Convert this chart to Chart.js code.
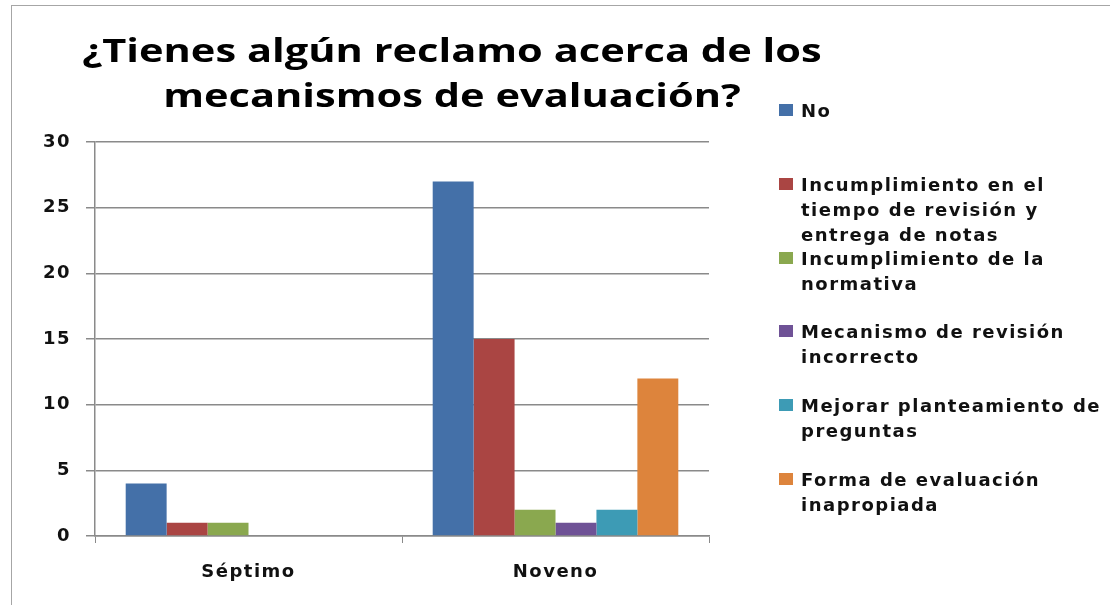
<!DOCTYPE html>
<html>
<head>
<meta charset="utf-8">
<script src="https://cdn.jsdelivr.net/npm/chart.js@4.4.0/dist/chart.umd.min.js"></script>
<style>
  html, body { margin: 0; padding: 0; background: #fff; }
  #wrap { position: relative; width: 1110px; height: 605px; overflow: hidden; }
  #frame { position: absolute; left: 11px; top: 5px; right: 0; bottom: 0;
           border-top: 1.5px solid #a6a6a6; border-left: 1.5px solid #a6a6a6; pointer-events: none; }
  #title { position: absolute; left: 0; top: 27px; width: 904px; text-align: center;
           font: bold 33px "Open Sans", sans-serif; line-height: 45px; color: #000;
           transform: scaleX(1.26); transform-origin: 452px 0; }
  .leg-item { position: absolute; left: 779px; }
  .leg-box { position: absolute; left: 0; top: 6px; width: 14px; height: 12px; }
  .leg-text { position: absolute; left: 22px; top: 0; white-space: nowrap;
              font: bold 18px "DejaVu Sans", sans-serif; line-height: 25px; letter-spacing: 1.5px; color: #111; }
</style>
</head>
<body>
<div id="wrap">
  <canvas id="chart" width="1110" height="605"></canvas>
  <div id="title">¿Tienes algún reclamo acerca de los<br>mecanismos de evaluación?</div>
  <div id="legend"></div>
  <div id="frame"></div>
</div>
<script>
// --- datos ---
const categorias = ['Séptimo', 'Noveno'];
const seriesNombres = [
  ['No'],
  ['Incumplimiento en el', 'tiempo de revisión y', 'entrega de notas'],
  ['Incumplimiento de la', 'normativa'],
  ['Mecanismo de revisión', 'incorrecto'],
  ['Mejorar planteamiento de', 'preguntas'],
  ['Forma de evaluación', 'inapropiada']
];
const valNo = [4, 27];
const valTiempo = [1, 15];
const valNormativa = [1, 2];
const valMecanismo = [0, 1];
const valPreguntas = [0, 2];
const valForma = [0, 12];
const colores = ['#4470a8', '#aa4543', '#8aa84f', '#6f5296', '#3d9bb5', '#dd843c'];

const valores = [valNo, valTiempo, valNormativa, valMecanismo, valPreguntas, valForma];
const gris = '#8a8a8a';

// espaciado de letras para imitar el texto ensanchado del original
const espaciado = {
  id: 'espaciado',
  beforeDraw(chart) { chart.ctx.letterSpacing = '1.5px'; },
  afterDraw(chart) { chart.ctx.letterSpacing = '0px'; }
};

const chart = new Chart(document.getElementById('chart'), {
  type: 'bar',
  data: {
    labels: categorias,
    datasets: valores.map((v, i) => ({
      label: seriesNombres[i].join(' '),
      data: v,
      backgroundColor: colores[i],
      borderWidth: 0,
      categoryPercentage: 0.8,
      barPercentage: 1.0
    }))
  },
  options: {
    responsive: false,
    animation: false,
    layout: { padding: { left: 0, top: 142, right: 401, bottom: 0 } },
    plugins: {
      legend: { display: false },
      title: { display: false },
      tooltip: { enabled: false }
    },
    scales: {
      x: {
        grid: { drawOnChartArea: false, drawTicks: true, tickLength: 7, color: gris, offset: true },
        border: { display: true, color: gris, width: 1.5 },
        ticks: { color: '#111', font: { family: 'DejaVu Sans', size: 18, weight: 'bold' }, padding: 19 },
        afterFit(scale) { scale.height = 69; }
      },
      y: {
        min: 0,
        max: 30,
        ticks: { stepSize: 5, color: '#111', font: { family: 'DejaVu Sans', size: 18, weight: 'bold' }, padding: 15 },
        grid: { color: gris, lineWidth: 1.5, tickLength: 9 },
        border: { display: true, color: gris, width: 1.5 },
        afterFit(scale) { scale.width = 95; }
      }
    }
  },
  plugins: [espaciado]
});

// --- leyenda a la derecha ---
const legend = document.getElementById('legend');
chart.data.datasets.forEach((ds, i) => {
  const item = document.createElement('div');
  item.className = 'leg-item';
  item.style.top = (98 + i * 73.8) + 'px';
  item.innerHTML = `<div class="leg-box" style="background:${ds.backgroundColor}"></div>` +
    `<div class="leg-text">${seriesNombres[i].join('<br>')}</div>`;
  legend.appendChild(item);
});
</script>
</body>
</html>
